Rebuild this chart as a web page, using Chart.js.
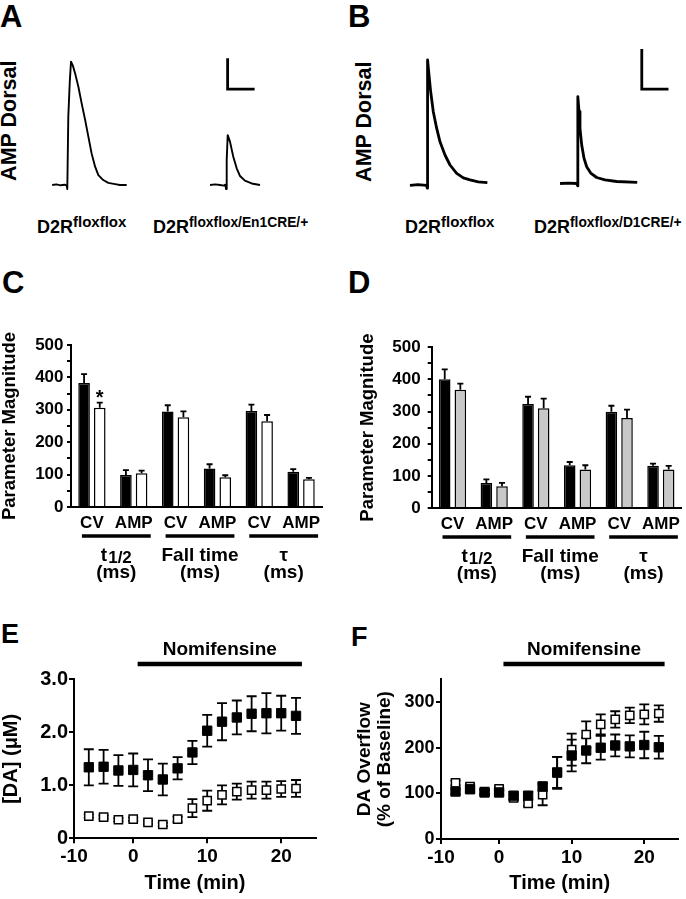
<!DOCTYPE html>
<html>
<head>
<meta charset="utf-8">
<script src="https://cdn.jsdelivr.net/npm/chart.js@4.4.1/dist/chart.umd.min.js"></script>
<style>
  html, body { margin: 0; padding: 0; background: #fff; }
  #fig { position: relative; width: 686px; height: 899px; overflow: hidden;
         font-family: 'Liberation Sans', Arial, sans-serif; font-weight: bold; color: #000; }
  #fig canvas { position: absolute; }
  .txt { position: absolute; white-space: nowrap; line-height: 1; }
  .letter { font-size: 31px; }
  .letter.small { font-size: 27px; }
  .geno { font-size: 18px; line-height: 18px; }
  .geno sup { font-size: 15px; vertical-align: 6.5px; line-height: 0; }
  .geno sup.tight { font-size: 13.8px; }
  .vlab { font-size: 21.5px; width: 160px; text-align: center; transform: rotate(-90deg); }
</style>
</head>
<body>
<div id="fig">
  <div class="txt letter" style="left:0px;top:1px">A</div>
  <div class="txt letter" style="left:348px;top:1px">B</div>
  <div class="txt letter" style="left:2px;top:267px">C</div>
  <div class="txt letter" style="left:348px;top:267px">D</div>
  <div class="txt letter small" style="left:1px;top:621px">E</div>
  <div class="txt letter small" style="left:351px;top:624px">F</div>

  <div class="txt vlab" style="left:-70px;top:110px">AMP Dorsal</div>
  <div class="txt vlab" style="left:285px;top:111px">AMP Dorsal</div>

  <div class="txt geno" style="left:37px;top:218px">D2R<sup>floxflox</sup></div>
  <div class="txt geno" style="left:153px;top:218px">D2R<sup class="tight">floxflox/En1CRE/+</sup></div>
  <div class="txt geno" style="left:405px;top:218px">D2R<sup>floxflox</sup></div>
  <div class="txt geno" style="left:534px;top:218px">D2R<sup class="tight">floxflox/D1CRE/+</sup></div>
</div>

<script>
/* ─── Panel A / B: amperometric traces ───────────────────────
   time and current both in scale-bar units, stimulus at t = 0 */
const a1Time = [-0.56, -0.4, -0.25, -0.1, -0.02, 0, 0.037, 0.09, 0.137, 0.21, 0.29, 0.41, 0.53, 0.66, 0.78, 0.9, 1.03, 1.15, 1.33, 1.52, 1.77, 1.95, 2.2];
const a1Curr = [0, 0.02, -0.01, 0.01, -0.02, -0.13, 2.2, 3.3, 3.98, 3.84, 3.6, 3.17, 2.64, 2.1, 1.56, 1.02, 0.59, 0.32, 0.16, 0.07, 0.03, 0, 0];
const a2Time = [-0.59, -0.4, -0.22, -0.08, -0.02, 0, 0.026, 0.063, 0.148, 0.27, 0.396, 0.52, 0.7, 0.95, 1.26];
const a2Curr = [0, 0.02, 0, -0.02, 0.01, -0.13, 0.81, 1.61, 1.4, 0.91, 0.54, 0.29, 0.14, 0.05, 0];
const b1Time = [-0.65, -0.35, -0.03, 0, 0.01, 0.075, 0.127, 0.225, 0.35, 0.476, 0.663, 0.85, 1.1, 1.35, 1.6, 1.91, 2.25];
const b1Curr = [-0.01, 0.01, -0.01, -0.08, 3.13, 2.67, 2.33, 1.83, 1.42, 1.08, 0.75, 0.5, 0.29, 0.18, 0.13, 0.08, 0.06];
const b2Time = [-0.66, -0.35, -0.03, 0, 0.005, 0.05, 0.086, 0.15, 0.236, 0.337, 0.487, 0.71, 1.02, 1.46, 2.23];
const b2Curr = [0, 0.01, 0, -0.06, 2.17, 1.8, 1.38, 0.96, 0.63, 0.42, 0.26, 0.15, 0.09, 0.05, 0.03];
// scale bars (1 x 1 unit)
const aBarTime = [0.06, 0.06, 1.06];
const aBarCurr = [4.09, 3.09, 3.09];
const bBarTime = [2.4, 2.4, 3.4];
const bBarCurr = [3.36, 2.36, 2.36];

/* ─── Panel C / D: kinetic parameters ─────────────────────── */
const barCats = ['CV', 'AMP', 'CV', 'AMP', 'CV', 'AMP'];
const groupNames = ['t', 'Fall time', 'τ'];
const groupSubs = ['1/2', '', ''];
const groupUnits = ['(ms)', '(ms)', '(ms)'];
const barTicks = [0, 50, 100, 150, 200, 250, 300, 350, 400, 450, 500];

const cFlox = [383, 99, 295, 119, 296, 109];
const cFloxErr = [27, 15, 19, 13, 20, 8];
const cEn1 = [306, 104, 277, 92, 265, 86];
const cEn1Err = [16, 8, 18, 6, 19, 4];
const cEn1Sig = [1, 0, 0, 0, 0, 0];

const dFlox = [400, 78, 323, 133, 299, 131];
const dFloxErr = [31, 11, 23, 10, 19, 7];
const dD1 = [368, 68, 310, 120, 280, 120];
const dD1Err = [19, 10, 30, 13, 26, 11];

/* ─── Panel E / F: nomifensine time course ────────────────── */
const timeMin = [-6, -4, -2, 0, 2, 4, 6, 8, 10, 12, 14, 16, 18, 20, 22];
const xTicks = [-8, 0, 10, 20];
const xTickLabels = ['-10', '0', '10', '20'];
const nomiFrom = 0.6;
const nomiTo = 22.8;

const eFlox = [1.34, 1.35, 1.28, 1.29, 1.19, 1.11, 1.32, 1.62, 2.03, 2.2, 2.28, 2.35, 2.36, 2.36, 2.31];
const eFloxErr = [0.34, 0.32, 0.29, 0.31, 0.3, 0.3, 0.21, 0.22, 0.3, 0.35, 0.32, 0.33, 0.38, 0.33, 0.34];
const eEn1 = [0.42, 0.4, 0.35, 0.36, 0.3, 0.26, 0.36, 0.57, 0.71, 0.82, 0.88, 0.91, 0.91, 0.93, 0.94];
const eEn1Err = [0.03, 0.03, 0.03, 0.03, 0.03, 0.03, 0.05, 0.17, 0.19, 0.18, 0.15, 0.16, 0.16, 0.15, 0.16];
const eTicks = [0, 1, 2, 3];

const fFlox = [104, 109, 102, 102, 95, 95, 115, 146, 183, 194, 200, 205, 203, 206, 201];
const fFloxErr = [6, 6, 5, 5, 8, 8, 9, 34, 35, 28, 26, 24, 24, 29, 25];
const fEn1 = [123, 115, 104, 110, 90, 78, 97, 145, 196, 229, 251, 262, 271, 273, 275];
const fEn1Err = [5, 5, 5, 5, 6, 6, 23, 35, 35, 29, 22, 18, 17, 22, 18];
const fTicks = [0, 100, 200, 300];

const FONT = "'Liberation Sans', Arial, sans-serif";

Chart.defaults.font.family = FONT;
Chart.defaults.font.weight = 'bold';
Chart.defaults.color = '#000';
Chart.defaults.animation = false;
Chart.defaults.responsive = false;
Chart.defaults.plugins.legend.display = false;
Chart.defaults.plugins.tooltip.enabled = false;

function placeCanvas(id, box) {
    const c = document.createElement('canvas');
    c.id = id;
    c.width = box.w;
    c.height = box.h;
    c.style.left = box.left + 'px';
    c.style.top = box.top + 'px';
    document.getElementById('fig').appendChild(c);
    return c;
}

const xy = (xs, ys) => xs.map((x, k) => ({ x, y: ys[k] }));

// error bars drawn under the markers
const errorBarPlugin = {
    id: 'errorBars',
    beforeDatasetsDraw(chart, args, opts) {
        const { ctx } = chart;
        const yS = chart.scales.y;
        ctx.save();
        ctx.strokeStyle = '#000';
        ctx.fillStyle = '#000';
        ctx.lineWidth = opts.width;
        chart.data.datasets.forEach((ds, di) => {
            if (!ds.errors) return;
            const meta = chart.getDatasetMeta(di);
            meta.data.forEach((el, j) => {
                const raw = ds.data[j];
                const v = typeof raw === 'object' ? raw.y : raw;
                const e = ds.errors[j];
                const top = yS.getPixelForValue(v + e);
                const bot = opts.both ? yS.getPixelForValue(v - e) : el.y;
                const half = opts.cap / 2;
                ctx.beginPath();
                ctx.moveTo(el.x, top);
                ctx.lineTo(el.x, bot);
                ctx.moveTo(el.x - half, top);
                ctx.lineTo(el.x + half, top);
                if (opts.both) {
                    ctx.moveTo(el.x - half, bot);
                    ctx.lineTo(el.x + half, bot);
                }
                ctx.stroke();
                if (ds.sig && ds.sig[j]) {
                    ctx.font = 'bold 20px ' + FONT;
                    ctx.textAlign = 'center';
                    ctx.textBaseline = 'alphabetic';
                    ctx.fillText('*', el.x, top + 1);
                }
            });
        });
        ctx.restore();
    }
};

// CV / AMP labels, group underlines and parameter names under the bar charts
const groupAxisPlugin = {
    id: 'groupAxis',
    afterDraw(chart) {
        const { ctx } = chart;
        const x = chart.scales.x;
        const base = x.top;
        ctx.save();
        ctx.fillStyle = '#000';
        ctx.strokeStyle = '#000';
        ctx.textAlign = 'center';
        ctx.textBaseline = 'alphabetic';
        ctx.font = 'bold 17px ' + FONT;
        barCats.forEach((c, k) => ctx.fillText(c, x.getPixelForValue(k), base + 21));

        groupNames.forEach((name, g) => {
            const x1 = x.getPixelForValue(g * 2) - 10;
            const x2 = x.getPixelForValue(g * 2 + 1) + 17;
            const mid = (x1 + x2) / 2;
            ctx.lineWidth = 3.3;
            ctx.beginPath();
            ctx.moveTo(x1, base + 29);
            ctx.lineTo(x2, base + 29);
            ctx.stroke();

            ctx.font = 'bold 19px ' + FONT;
            if (groupSubs[g]) {
                const w1 = ctx.measureText(name).width;
                ctx.font = 'bold 17px ' + FONT;
                const w2 = ctx.measureText(groupSubs[g]).width;
                const start = mid - (w1 + w2 + 1) / 2;
                ctx.textAlign = 'left';
                ctx.font = 'bold 19px ' + FONT;
                ctx.fillText(name, start, base + 54);
                ctx.font = 'bold 17px ' + FONT;
                ctx.fillText(groupSubs[g], start + w1 + 1, base + 56);
                ctx.textAlign = 'center';
            } else {
                ctx.fillText(name, mid, base + 54);
            }
            ctx.font = 'bold 19px ' + FONT;
            ctx.fillText(groupUnits[g], mid, base + 71);
        });
        ctx.restore();
    }
};

// drug application bar above the time-course plots
const nomiPlugin = {
    id: 'nomi',
    afterDraw(chart, args, opts) {
        const { ctx, chartArea } = chart;
        const x = chart.scales.x;
        const x1 = x.getPixelForValue(opts.from);
        const x2 = x.getPixelForValue(opts.to);
        ctx.save();
        ctx.strokeStyle = '#000';
        ctx.lineWidth = 4.5;
        ctx.beginPath();
        ctx.moveTo(x1, chartArea.top - 15.3);
        ctx.lineTo(x2, chartArea.top - 15.3);
        ctx.stroke();
        ctx.fillStyle = '#000';
        ctx.font = 'bold 19px ' + FONT;
        ctx.textAlign = 'center';
        ctx.textBaseline = 'alphabetic';
        ctx.fillText(opts.label, (x1 + x2) / 2, chartArea.top - 24);
        ctx.restore();
    }
};

/* ─── traces ─────────────────────────────────────────────── */
function traceChart(id, box, series) {
    const canvas = placeCanvas(id, box);
    new Chart(canvas, {
        type: 'line',
        data: {
            datasets: series.map(s => ({
                data: xy(s.t, s.i),
                borderColor: '#000',
                borderWidth: s.w,
                pointRadius: 0,
                tension: 0,
                borderCapStyle: 'butt',
                borderJoinStyle: s.join || 'round'
            }))
        },
        options: {
            devicePixelRatio: 1,
            layout: { padding: 0 },
            scales: {
                x: { type: 'linear', display: false,
                     min: (box.left - box.x0) / box.pxT,
                     max: (box.left + box.w - box.x0) / box.pxT },
                y: { type: 'linear', display: false,
                     min: (box.y0 - box.top - box.h) / box.pxI,
                     max: (box.y0 - box.top) / box.pxI }
            }
        }
    });
}

traceChart('a1', { left: 48, top: 50, w: 84, h: 146, x0: 67.3, y0: 185, pxT: 27, pxI: 31 },
    [{ t: a1Time, i: a1Curr, w: 1.9 }]);
traceChart('a2', { left: 205, top: 50, w: 60, h: 146, x0: 226, y0: 185, pxT: 27, pxI: 31 },
    [{ t: a2Time, i: a2Curr, w: 1.9 }, { t: aBarTime, i: aBarCurr, w: 2.8, join: 'miter' }]);
traceChart('b1', { left: 405, top: 44, w: 88, h: 150, x0: 427.3, y0: 185, pxT: 26.7, pxI: 40 },
    [{ t: b1Time, i: b1Curr, w: 2.8 }]);
traceChart('b2', { left: 555, top: 44, w: 120, h: 150, x0: 577.7, y0: 183.5, pxT: 26.7, pxI: 40 },
    [{ t: b2Time, i: b2Curr, w: 2.8 }, { t: bBarTime, i: bBarCurr, w: 2.8, join: 'miter' }]);

/* ─── bar charts ─────────────────────────────────────────── */
function barChart(id, box, sets) {
    const canvas = placeCanvas(id, box);
    new Chart(canvas, {
        type: 'bar',
        data: {
            labels: barCats,
            datasets: sets.map(s => ({
                data: s.data,
                errors: s.err,
                sig: s.sig,
                backgroundColor: s.fill,
                borderColor: '#000',
                borderWidth: 1.5,
                categoryPercentage: 0.75,
                barPercentage: 0.74
            }))
        },
        options: {
            devicePixelRatio: 1,
            layout: { padding: { top: box.axisTop - box.top, right: box.left + box.w - box.axisRight, left: 0, bottom: 0 } },
            scales: {
                x: {
                    grid: { display: false },
                    border: { color: '#000', width: 2 },
                    ticks: { display: false },
                    afterFit: s => { s.height = box.top + box.h - box.axisBottom; }
                },
                y: {
                    min: 0, max: 500,
                    afterBuildTicks: s => { s.ticks = barTicks.map(v => ({ value: v })); },
                    ticks: {
                        autoSkip: false,
                        padding: box.tickPad,
                        font: { size: 17, weight: 'bold' },
                        callback: v => (v % 100 === 0 ? String(v) : '')
                    },
                    grid: { drawOnChartArea: false, color: '#000', lineWidth: 2, tickLength: 4 },
                    border: { color: '#000', width: 2 },
                    title: {
                        display: true, text: 'Parameter Magnitude',
                        font: { size: 18.5, weight: 'bold', lineHeight: 1 },
                        padding: { top: box.titleX - 9.25, bottom: 0 }
                    },
                    afterFit: s => { s.width = box.axisX - box.left; }
                }
            },
            plugins: { errorBars: { width: 1.8, cap: 6, both: false } }
        },
        plugins: [errorBarPlugin, groupAxisPlugin]
    });
}

barChart('c', { left: 0, top: 330, w: 335, h: 270, axisX: 71, axisTop: 345, axisBottom: 507, axisRight: 322, tickPad: 3.5, titleX: 10 },
    [{ data: cFlox, err: cFloxErr, fill: '#000' },
     { data: cEn1, err: cEn1Err, sig: cEn1Sig, fill: '#fff' }]);
barChart('d', { left: 340, top: 330, w: 346, h: 270, axisX: 431.7, axisTop: 346, axisBottom: 508, axisRight: 681.7, tickPad: 7, titleX: 28 },
    [{ data: dFlox, err: dFloxErr, fill: '#000' },
     { data: dD1, err: dD1Err, fill: '#c8c8c8' }]);

/* ─── time courses ───────────────────────────────────────── */
function timeChart(id, box, sets, y) {
    const canvas = placeCanvas(id, box);
    new Chart(canvas, {
        type: 'scatter',
        data: {
            datasets: sets.map(s => ({
                data: xy(timeMin, s.data),
                errors: s.err,
                pointStyle: 'rect',
                pointRadius: s.open ? 5.8 : 6.6,
                backgroundColor: s.open ? '#fff' : '#000',
                borderColor: '#000',
                borderWidth: s.open ? 1.5 : 1
            }))
        },
        options: {
            devicePixelRatio: 1,
            layout: { padding: { top: box.axisTop - box.top, right: box.left + box.w - box.axisRight, left: 0, bottom: 0 } },
            scales: {
                x: {
                    type: 'linear', min: -8, max: 24.7,
                    afterBuildTicks: s => { s.ticks = xTicks.map(v => ({ value: v })); },
                    ticks: {
                        autoSkip: false, maxRotation: 0, padding: 2,
                        font: { size: 19, weight: 'bold' },
                        callback: (v, k) => xTickLabels[k]
                    },
                    grid: { drawOnChartArea: false, color: '#000', lineWidth: 2, tickLength: 5 },
                    border: { color: '#000', width: 2 },
                    title: {
                        display: true, text: 'Time (min)',
                        font: { size: 20, weight: 'bold', lineHeight: 1 },
                        padding: { top: 0, bottom: 5.3 }
                    },
                    afterFit: s => { s.height = box.top + box.h - box.axisBottom; }
                },
                y: {
                    min: 0, max: y.max,
                    afterBuildTicks: s => { s.ticks = y.ticks.map(v => ({ value: v })); },
                    ticks: {
                        autoSkip: false, padding: y.tickPad,
                        font: { size: y.tickSize, weight: 'bold' },
                        callback: y.fmt
                    },
                    grid: { drawOnChartArea: false, color: '#000', lineWidth: 2, tickLength: 5 },
                    border: { color: '#000', width: 2 },
                    title: {
                        display: true, text: y.title,
                        font: { size: y.titleSize, weight: 'bold', lineHeight: y.titleLH },
                        padding: { top: y.titlePad, bottom: 0 }
                    },
                    afterFit: s => { s.width = box.axisX - box.left; }
                }
            },
            plugins: {
                errorBars: { width: 1.8, cap: 10, both: true },
                nomi: { from: nomiFrom, to: nomiTo, label: 'Nomifensine' }
            }
        },
        plugins: [errorBarPlugin, nomiPlugin]
    });
}

timeChart('e', { left: 0, top: 630, w: 330, h: 269, axisX: 74, axisTop: 679.3, axisBottom: 838.3, axisRight: 316 },
    [{ data: eFlox, err: eFloxErr, open: false },
     { data: eEn1, err: eEn1Err, open: true }],
    { max: 3, ticks: eTicks, tickPad: 1, tickSize: 20,
      fmt: v => (v === 0 ? '0' : v.toFixed(1)),
      title: '[DA] (μM)', titleSize: 20, titleLH: 1, titlePad: 1 });

timeChart('f', { left: 340, top: 630, w: 346, h: 269, axisX: 441, axisTop: 679.3, axisBottom: 839, axisRight: 681.7 },
    [{ data: fFlox, err: fFloxErr, open: false },
     { data: fEn1, err: fEn1Err, open: true }],
    { max: 350, ticks: fTicks, tickPad: 1.5, tickSize: 18,
      fmt: v => String(v),
      title: ['DA Overflow', '(% of Baseline)'], titleSize: 19, titleLH: 1.05, titlePad: 15 });
</script>
</body>
</html>
